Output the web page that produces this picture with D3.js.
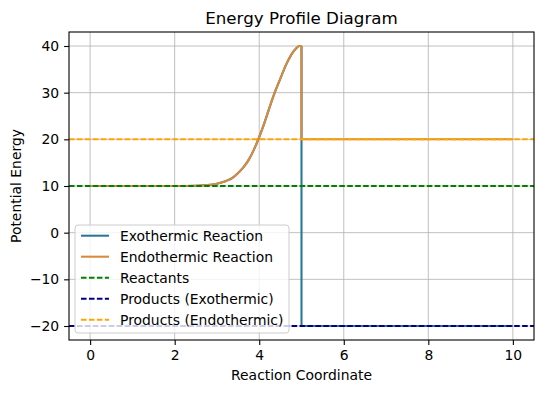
<!DOCTYPE html>
<html>
<head>
<meta charset="utf-8">
<script src="https://cdn.jsdelivr.net/npm/d3@7"></script>
<style>
  body { margin: 0; background: #fff; }
  text { font-family: "DejaVu Sans", sans-serif; fill: #000; }
</style>
</head>
<body>
<div id="chart"></div>
<script>
// reaction path (rise towards the transition state at x = 5)
const pathX = [0, 0.5, 1, 1.5, 2, 2.5, 2.75, 3, 3.125, 3.25, 3.375, 3.5, 3.625, 3.75, 3.875,
    4, 4.125, 4.25, 4.375, 4.5, 4.625, 4.75, 4.875, 4.95, 5];
const pathY = [10, 10, 10, 10, 10, 10.05, 10.2, 10.5, 10.8, 11.2, 11.8, 12.8, 14.0, 15.6, 17.8,
    20.5, 23.6, 27.0, 30.2, 33.0, 35.8, 38.0, 39.5, 40, 40];
const xEnd = 10;
const reactantLevel = 10;
const exoProduct = -20;
const endoProduct = 20;

const xTicks = [0, 2, 4, 6, 8, 10];
const yTicks = [-20, -10, 0, 10, 20, 30, 40];

const legendItems = [
    {label: "Exothermic Reaction", color: "#2a7897", dash: null},
    {label: "Endothermic Reaction", color: "#d98a3c", dash: null},
    {label: "Reactants", color: "green", dash: "5.55,2.4"},
    {label: "Products (Exothermic)", color: "navy", dash: "5.55,2.4"},
    {label: "Products (Endothermic)", color: "orange", dash: "5.55,2.4"}
];

const W = 543, H = 393;
const margin = {top: 32, right: 9, bottom: 53, left: 69};
const width = W - margin.left - margin.right, height = H - margin.top - margin.bottom;

const svg = d3.select("#chart").append("svg")
    .attr("width", W)
    .attr("height", H);
const g = svg.append("g")
    .attr("transform", "translate(" + margin.left + "," + margin.top + ")");

const x = d3.scaleLinear().domain([-0.5, 10.5]).range([0, width]);
const y = d3.scaleLinear().domain([-23, 43]).range([height, 0]);

// grid
g.append("g").selectAll("line").data(xTicks).enter().append("line")
    .attr("x1", d => x(d)).attr("x2", d => x(d))
    .attr("y1", 0).attr("y2", height)
    .attr("stroke", "#b0b0b0").attr("stroke-width", 0.8);
g.append("g").selectAll("line").data(yTicks).enter().append("line")
    .attr("y1", d => y(d)).attr("y2", d => y(d))
    .attr("x1", 0).attr("x2", width)
    .attr("stroke", "#b0b0b0").attr("stroke-width", 0.8);

const smooth = d3.line().x(d => x(d[0])).y(d => y(d[1])).curve(d3.curveMonotoneX);
const straight = d3.line().x(d => x(d[0])).y(d => y(d[1]));
const rise = pathX.map((v, i) => [v, pathY[i]]);

// each reaction: smooth rise, then a drop at x = 5 to its product level
[exoProduct, endoProduct].forEach((p, i) => {
    const col = legendItems[i].color;
    g.append("path").datum(rise)
        .attr("d", smooth).attr("fill", "none")
        .attr("stroke", col).attr("stroke-width", 2.08);
    g.append("path").datum([rise[rise.length - 1], [5, p], [xEnd, p]])
        .attr("d", straight).attr("fill", "none")
        .attr("stroke", col).attr("stroke-width", 2.08);
});

// horizontal reference levels
const levels = [reactantLevel, exoProduct, endoProduct];
levels.forEach((lv, i) => {
    g.append("line")
        .attr("x1", 0).attr("x2", width)
        .attr("y1", y(lv)).attr("y2", y(lv))
        .attr("stroke", legendItems[i + 2].color)
        .attr("stroke-width", 2.08)
        .attr("stroke-dasharray", legendItems[i + 2].dash);
});

// axes
const xAxis = g.append("g")
    .attr("transform", "translate(0," + height + ")")
    .call(d3.axisBottom(x).tickValues(xTicks).tickSize(4.9).tickPadding(4.9));
const yAxis = g.append("g")
    .call(d3.axisLeft(y).tickValues(yTicks).tickSize(4.9).tickPadding(4.9)
        .tickFormat(d => d < 0 ? "\u2212" + Math.abs(d) : d));
[xAxis, yAxis].forEach(a => {
    a.select(".domain").remove();
    a.selectAll("line").attr("stroke", "#000").attr("stroke-width", 1.1);
    a.selectAll("text").style("font-size", "13.9px").style("font-family", "DejaVu Sans");
});

g.append("rect")
    .attr("width", width).attr("height", height)
    .attr("fill", "none").attr("stroke", "#000").attr("stroke-width", 1.1);

// legend
const legend = g.append("g").attr("transform", "translate(6,193)");
legend.append("rect")
    .attr("width", 214).attr("height", 108)
    .attr("rx", 3)
    .attr("fill", "#fff").attr("fill-opacity", 0.8)
    .attr("stroke", "#cccccc").attr("stroke-width", 1);
const rows = legend.selectAll(".item").data(legendItems).enter().append("g")
    .attr("class", "item")
    .attr("transform", (d, i) => "translate(0," + (10.7 + i * 21) + ")");
rows.append("line")
    .attr("x1", 6).attr("x2", 34)
    .attr("stroke", d => d.color)
    .attr("stroke-width", 2.08)
    .attr("stroke-dasharray", d => d.dash);
rows.append("text")
    .attr("x", 45).attr("dy", "0.36em")
    .style("font-size", "13.9px")
    .text(d => d.label);

// titles
g.append("text")
    .attr("x", width / 2).attr("y", -8.3)
    .attr("text-anchor", "middle")
    .style("font-size", "16.7px")
    .text("Energy Profile Diagram");
g.append("text")
    .attr("x", width / 2).attr("y", height + 40)
    .attr("text-anchor", "middle")
    .style("font-size", "13.9px")
    .text("Reaction Coordinate");
g.append("text")
    .attr("transform", "rotate(-90)")
    .attr("x", -height / 2).attr("y", -48)
    .attr("text-anchor", "middle")
    .style("font-size", "13.9px")
    .text("Potential Energy");
</script>
</body>
</html>
